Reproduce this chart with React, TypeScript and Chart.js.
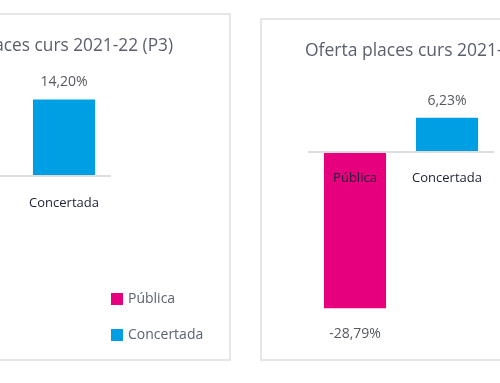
import React, { useEffect, useRef } from 'react';
import { Chart, registerables } from 'chart.js';

Chart.register(...registerables);

// ---- data ----
const categories = ['Pública', 'Concertada'];
const p3Values: (number | null)[] = [null, 14.2]; // Pública bar of this panel lies outside the frame
const esoValues: (number | null)[] = [-28.79, 6.23];
const titleP3 = 'Oferta places curs 2021-22 (P3)';
const titleEso = 'Oferta places curs 2021-22 (1r ESO)';
const legendLabels = ['Pública', 'Concertada'];

// ---- styles ----
const COLORS = ['#E6007E', '#009FE3'];
const FONT = '"Open Sans", "Noto Sans", sans-serif';
const fmt = (v: number) => v.toFixed(2).replace('.', ',') + '%';

const valueLabels = {
  id: 'valueLabels',
  afterDatasetsDraw(chart: any) {
    const ctx = chart.ctx;
    const meta = chart.getDatasetMeta(0);
    const data = chart.data.datasets[0].data;
    ctx.save();
    ctx.font = `14px ${FONT}`;
    ctx.fillStyle = '#55585f';
    ctx.textAlign = 'center';
    ctx.textBaseline = 'middle';
    meta.data.forEach((bar: any, i: number) => {
      const v = data[i];
      if (v === null || v === undefined) return;
      const y = v >= 0 ? bar.y - 17 : bar.y + 26;
      ctx.fillText(fmt(v), bar.x, y);
    });
    ctx.restore();
  },
};

const sideLegend = {
  id: 'sideLegend',
  afterDraw(chart: any) {
    if (!chart.options.plugins.sideLegend?.show) return;
    const { ctx, chartArea } = chart;
    const x = chartArea.right + 1;
    const n = legendLabels.length;
    ctx.save();
    ctx.font = `14px ${FONT}`;
    ctx.textBaseline = 'middle';
    ctx.textAlign = 'left';
    legendLabels.forEach((lab, i) => {
      const boxTop = chartArea.bottom + 2 - 12 - (n - 1 - i) * 36;
      ctx.fillStyle = COLORS[i];
      ctx.fillRect(x, boxTop, 12, 12);
      ctx.fillStyle = '#5b6275';
      ctx.fillText(lab, x + 17, boxTop + 6);
    });
    ctx.restore();
  },
};

interface PanelCfg {
  values: (number | null)[];
  title: string;
  align: 'start' | 'end';
  width: number;
  height: number;
  padL: number;
  wL: number;
  padR: number;
  wR: number;
  yMin: number;
  yMax: number;
  titleTop: number;
  titleBottom: number;
  padB: number;
  legend: boolean;
}

function BarPanel({ cfg }: { cfg: PanelCfg }) {
  const ref = useRef<HTMLCanvasElement | null>(null);
  useEffect(() => {
    if (!ref.current) return;
    const chart = new Chart(ref.current, {
      type: 'bar',
      data: {
        labels: categories,
        datasets: [
          {
            data: cfg.values as any,
            backgroundColor: COLORS,
            borderWidth: 0,
            categoryPercentage: 1,
            barPercentage: 0.675,
          },
        ],
      },
      options: {
        animation: false,
        responsive: false,
        layout: { padding: { left: cfg.padL, right: cfg.padR, top: 0, bottom: cfg.padB } },
        scales: {
          x: {
            position: { y: 0 } as any,
            grid: { display: false, drawTicks: false },
            border: { display: true, color: '#dedede', width: 2, z: 1 } as any,
            ticks: {
              z: 2,
              color: '#1b2033',
              font: { family: FONT, size: 13 },
              padding: 19,
              maxRotation: 0,
              autoSkip: false,
            },
          },
          y: {
            min: cfg.yMin,
            max: cfg.yMax,
            display: true,
            grid: { display: false, drawTicks: false },
            border: { display: false },
            ticks: { display: false },
            afterFit: (s: any) => {
              s.width = cfg.wL;
            },
          },
          yr: {
            type: 'linear',
            position: 'right',
            display: true,
            grid: { display: false, drawTicks: false },
            border: { display: false },
            ticks: { display: false },
            afterFit: (s: any) => {
              s.width = cfg.wR;
            },
          },
        },
        plugins: {
          legend: { display: false },
          tooltip: { enabled: false },
          sideLegend: { show: cfg.legend },
          title: {
            display: true,
            text: cfg.title,
            align: cfg.align,
            color: '#5a5f6d',
            font: { family: FONT, size: 17.5, weight: 'normal' as any, lineHeight: 1.2 },
            padding: { top: cfg.titleTop, bottom: cfg.titleBottom },
          },
        } as any,
      },
      plugins: [valueLabels, sideLegend],
    });
    return () => chart.destroy();
  }, [cfg]);
  return <canvas ref={ref} width={cfg.width} height={cfg.height} style={{ display: 'block' }} />;
}

const leftCfg: PanelCfg = {
  values: p3Values,
  title: titleP3,
  align: 'end',
  width: 349,
  height: 344,
  padL: 43,
  wL: 3,
  padR: 56,
  wR: 63,
  yMin: -30,
  yMax: 20,
  titleTop: 21,
  titleBottom: 11,
  padB: 20,
  legend: true,
};

const rightCfg: PanelCfg = {
  values: esoValues,
  title: titleEso,
  align: 'start',
  width: 349,
  height: 339,
  padL: 43,
  wL: 4,
  padR: 0,
  wR: 118,
  yMin: -35,
  yMax: 15,
  titleTop: 21,
  titleBottom: 8,
  padB: 17,
  legend: false,
};

const panelStyle: React.CSSProperties = {
  position: 'absolute',
  boxSizing: 'border-box',
  border: '2px solid #e6e6e6',
  background: '#ffffff',
  overflow: 'hidden',
};

export default function App() {
  useEffect(() => {
    document.body.style.margin = '0';
  }, []);
  return (
    <div
      style={{
        position: 'relative',
        width: 500,
        height: 383,
        overflow: 'hidden',
        background: '#ffffff',
      }}
    >
      <div style={{ ...panelStyle, left: -122, top: 13, width: 353, height: 348 }}>
        <BarPanel cfg={leftCfg} />
      </div>
      <div style={{ ...panelStyle, left: 260, top: 18, width: 353, height: 343 }}>
        <BarPanel cfg={rightCfg} />
      </div>
    </div>
  );
}
